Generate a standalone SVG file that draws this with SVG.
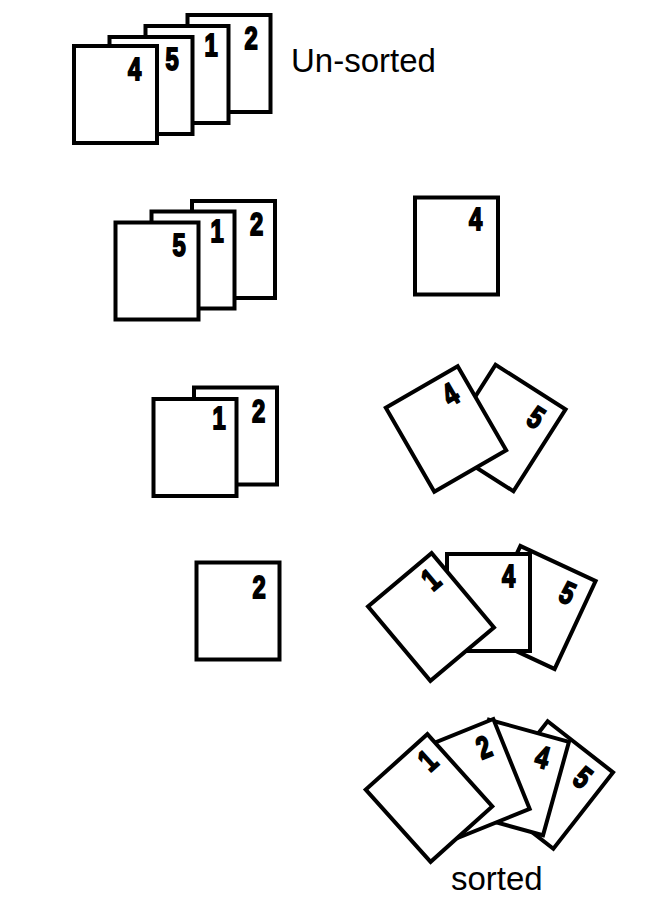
<svg xmlns="http://www.w3.org/2000/svg" xmlns:xlink="http://www.w3.org/1999/xlink" width="650" height="900" viewBox="0 0 650 900">
<style>
.card{fill:#fff;stroke:#000;stroke-width:4;stroke-linejoin:miter}
.num{font-family:"Liberation Sans","DejaVu Sans",sans-serif;font-weight:bold;font-size:28px;text-anchor:middle;fill:#000;stroke:#000;stroke-width:1.6}
.lbl{font-family:"Liberation Sans",Arial,sans-serif;font-size:33px;fill:#000}
</style>
<defs>
<rect id="c" class="card" x="-41.5" y="-48.5" width="83" height="97"/>
</defs>
<rect width="650" height="900" fill="#fff"/>

<!-- Row 1: unsorted stack -->
<g id="r1-card2" transform="translate(229,63.5)"><use href="#c"/><text class="num" transform="translate(22,-15) scale(0.85,1.12)">2</text></g>
<g id="r1-card1" transform="translate(187,74.5)"><use href="#c"/><text class="num" transform="translate(24,-19) scale(0.85,1.12)">1</text></g>
<g id="r1-card5" transform="translate(151,85.5)"><use href="#c"/><text class="num" transform="translate(21,-16) scale(0.85,1.12)">5</text></g>
<g id="r1-card4" transform="translate(115.5,94.5)"><use href="#c"/><text class="num" transform="translate(19,-15) scale(0.85,1.12)">4</text></g>
<text id="label-unsorted" class="lbl" x="291" y="72">Un-sorted</text>

<!-- Row 2 -->
<g id="r2-card2" transform="translate(233.5,249.5)"><use href="#c"/><text class="num" transform="translate(23,-15) scale(0.85,1.12)">2</text></g>
<g id="r2-card1" transform="translate(193,260)"><use href="#c"/><text class="num" transform="translate(24,-18) scale(0.85,1.12)">1</text></g>
<g id="r2-card5" transform="translate(157,271)"><use href="#c"/><text class="num" transform="translate(22,-15) scale(0.85,1.12)">5</text></g>
<g id="r2-card4" transform="translate(456.5,246)"><use href="#c"/><text class="num" transform="translate(19,-16) scale(0.85,1.12)">4</text></g>

<!-- Row 3 -->
<g id="r3-card2" transform="translate(235.5,436)"><use href="#c"/><text class="num" transform="translate(23,-14) scale(0.85,1.12)">2</text></g>
<g id="r3-card1" transform="translate(195,447.5)"><use href="#c"/><text class="num" transform="translate(24,-19) scale(0.85,1.12)">1</text></g>
<g id="r3-card5" transform="translate(504.5,428) rotate(32.5)"><use href="#c"/><text class="num" transform="translate(21,-15) scale(0.85,1.12)">5</text></g>
<g id="r3-card4" transform="translate(446,429) rotate(-30)"><use href="#c"/><text class="num" transform="translate(21,-17) scale(0.85,1.12)">4</text></g>

<!-- Row 4 -->
<g id="r4-card2" transform="translate(238,611)"><use href="#c"/><text class="num" transform="translate(21,-13) scale(0.85,1.12)">2</text></g>
<g id="r4-card5" transform="translate(537.5,607.5) rotate(25)"><use href="#c"/><text class="num" transform="translate(21,-15) scale(0.85,1.12)">5</text></g>
<g id="r4-card4" transform="translate(488.5,602.5)"><use href="#c"/><text class="num" transform="translate(20,-16) scale(0.85,1.12)">4</text></g>
<g id="r4-card1" transform="translate(431,617) rotate(-40)"><use href="#c"/><text class="num" transform="translate(24,-18) scale(0.85,1.12)">1</text></g>

<!-- Row 5: sorted -->
<g id="r5-card5" transform="translate(550.5,785) rotate(38)"><use href="#c"/><text class="num" transform="translate(21,-15) scale(0.85,1.12)">5</text></g>
<g id="r5-card4" transform="translate(516,777.5) rotate(15.5)"><use href="#c"/><text class="num" transform="translate(20,-16) scale(0.85,1.12)">4</text></g>
<g id="r5-card2" transform="translate(473,779.5) rotate(-22)"><use href="#c"/><text class="num" transform="translate(22,-15) scale(0.85,1.12)">2</text></g>
<g id="r5-card1" transform="translate(429,798) rotate(-42)"><use href="#c"/><text class="num" transform="translate(24,-18) scale(0.85,1.12)">1</text></g>
<text id="label-sorted" class="lbl" x="451" y="890">sorted</text>
</svg>
